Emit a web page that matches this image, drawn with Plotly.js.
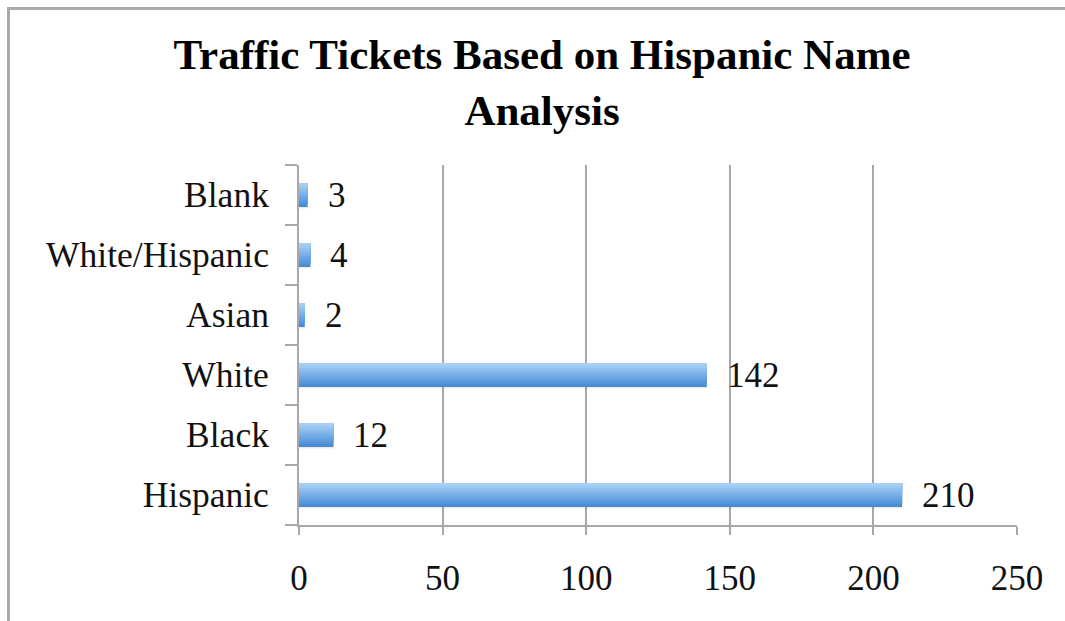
<!DOCTYPE html>
<html>
<head>
<meta charset="utf-8">
<script src="https://cdn.plot.ly/plotly-3.0.1.min.js"></script>
<style>
  html, body { margin: 0; padding: 0; background: #fff; overflow: hidden; }
  #chart { width: 1065px; height: 621px; }
  #frame { position: absolute; left: 7px; top: 7px; width: 1200px; height: 800px;
           border-top: 3px solid #ababab; border-left: 3px solid #ababab; pointer-events: none; }
</style>
</head>
<body>
<div id="chart"></div>
<div id="frame"></div>
<script>
const categories = ["Hispanic", "Black", "White", "Asian", "White/Hispanic", "Blank"];
const tickets = [210, 12, 142, 2, 4, 3];
const xTicks = [0, 50, 100, 150, 200, 250];
const titleText = "Traffic Tickets Based on Hispanic Name<br>Analysis";

const serif = "Liberation Serif, Times New Roman, serif";

// layered bars (style only) to imitate the vertical gradient of the bars
const gradStops = ["#4a8bd4", "#5594da", "#609ddf", "#6ba6e3", "#77aee7", "#83b7ea", "#90bfed", "#9cc7f0", "#a8cff3"];
const layers = [{ offset: -0.225, width: 0.03, color: "rgba(0,0,0,0.07)" }];
gradStops.forEach((c, k) => {
  const h = 0.4 / gradStops.length;
  layers.push({ offset: -0.2 + k * h, width: 0.4 - k * h, color: c });
});
const traces = layers.map(l => ({
  type: "bar",
  orientation: "h",
  x: tickets,
  y: categories,
  offset: l.offset,
  width: l.width,
  marker: { color: l.color, line: { width: 0 } },
  hoverinfo: "skip",
  showlegend: false
}));

const annotations = tickets.map((v, i) => ({
  x: v, y: categories[i], xref: "x", yref: "y",
  text: String(v), showarrow: false, xanchor: "left", yanchor: "middle",
  xshift: 18, font: { family: serif, size: 35, color: "#111" }
}));

const layout = {
  width: 1065, height: 621,
  margin: { l: 299, r: 48, t: 165, b: 96, pad: 0 },
  paper_bgcolor: "#fff", plot_bgcolor: "#fff",
  barmode: "overlay",
  title: {
    text: titleText,
    font: { family: serif, size: 43, color: "#000", weight: "bold" },
    x: 0.509, xanchor: "center", xref: "container",
    y: 0.889, yanchor: "top", yref: "container"
  },
  xaxis: {
    range: [0, 250], tickvals: xTicks, ticktext: xTicks.map(String),
    showgrid: true, gridcolor: "#a8a8a8", gridwidth: 2,
    showline: true, linecolor: "#a8a8a8", linewidth: 2,
    ticks: "outside", ticklen: 8, tickwidth: 2, tickcolor: "#a8a8a8",
    ticklabelstandoff: 13,
    zeroline: false,
    tickfont: { family: serif, size: 35, color: "#111" },
    fixedrange: true
  },
  yaxis: {
    type: "category", categoryorder: "array", categoryarray: categories,
    showgrid: false, showline: true, linecolor: "#a8a8a8", linewidth: 2,
    ticks: "outside", tickson: "boundaries", ticklen: 12, tickwidth: 2, tickcolor: "#a8a8a8",
    ticklabelstandoff: 21,
    tickfont: { family: serif, size: 35.5, color: "#111" },
    fixedrange: true
  },
  annotations: annotations
};

Plotly.newPlot("chart", traces, layout, { displayModeBar: false, staticPlot: true });
</script>
</body>
</html>
